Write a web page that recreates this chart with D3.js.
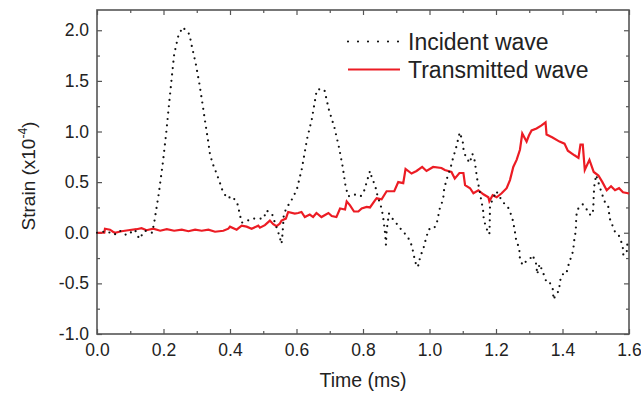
<!DOCTYPE html>
<html>
<head>
<meta charset="utf-8">
<script src="https://cdn.jsdelivr.net/npm/d3@7"></script>
<style>
  body { margin: 0; background: #fff; }
  svg { display: block; }
  text { font-family: "Liberation Sans", Arial, Helvetica, sans-serif; fill: #222; }
</style>
</head>
<body>
<div class="chart"></div>
<script>
// Incident wave (time in ms, strain x1e-4)
var incTime = [0.000,0.029,0.052,0.069,0.089,0.114,0.127,0.144,0.166,0.172,0.186,0.198,0.208,0.217,0.226,0.232,0.238,0.245,0.258,0.278,
	0.284,0.297,0.308,0.317,0.326,0.335,0.339,0.347,0.359,0.369,0.377,0.391,0.407,0.422,0.429,0.435,0.447,0.466,0.501,0.510,
	0.527,0.537,0.547,0.555,0.558,0.562,0.575,0.590,0.602,0.616,0.632,0.646,0.661,0.672,0.684,0.697,0.714,0.728,0.739,0.748,
	0.756,0.771,0.793,0.803,0.812,0.821,0.826,0.837,0.844,0.854,0.860,0.867,0.869,0.871,0.878,0.895,0.907,0.919,0.930,0.943,
	0.951,0.957,0.965,0.972,0.983,0.990,0.998,1.011,1.021,1.031,1.041,1.044,1.051,1.064,1.071,1.080,1.091,1.100,1.103,1.111,
	1.121,1.129,1.136,1.140,1.144,1.150,1.155,1.161,1.163,1.170,1.180,1.181,1.182,1.201,1.221,1.232,1.240,1.250,1.256,1.260,
	1.270,1.272,1.280,1.291,1.302,1.310,1.321,1.324,1.331,1.340,1.351,1.360,1.371,1.373,1.380,1.390,1.392,1.400,1.411,1.418,
	1.422,1.432,1.435,1.440,1.441,1.443,1.451,1.461,1.471,1.481,1.491,1.493,1.494,1.496,1.501,1.518,1.529,1.539,1.541,1.548,
	1.559,1.571,1.581,1.583,1.593,1.595];
var incStrain = [0.00,0.015,-0.02,0.02,-0.025,0.03,-0.06,0.02,0.00,0.10,0.39,0.69,0.98,1.28,1.57,1.76,1.85,1.95,2.03,1.96,
	1.86,1.67,1.47,1.28,1.08,0.89,0.79,0.69,0.59,0.50,0.42,0.34,0.36,0.29,0.19,0.10,0.11,0.14,0.14,0.22,
	0.18,0.08,-0.015,-0.11,-0.01,0.19,0.27,0.35,0.44,0.63,0.93,1.12,1.41,1.42,1.41,1.22,1.04,0.84,0.65,0.45,
	0.36,0.38,0.36,0.41,0.51,0.61,0.55,0.46,0.36,0.26,0.17,-0.02,-0.12,0.02,0.19,0.11,0.07,0.01,-0.02,-0.09,
	-0.19,-0.29,-0.34,-0.24,-0.14,-0.05,0.035,0.035,0.08,0.24,0.33,0.43,0.52,0.65,0.74,0.84,0.99,0.90,0.80,0.74,
	0.69,0.78,0.71,0.61,0.52,0.43,0.33,0.23,0.14,0.05,-0.015,0.07,0.27,0.41,0.30,0.27,0.23,0.13,0.03,-0.06,
	-0.16,-0.26,-0.32,-0.28,-0.26,-0.22,-0.31,-0.41,-0.31,-0.38,-0.48,-0.48,-0.56,-0.66,-0.61,-0.57,-0.48,-0.41,-0.41,-0.32,
	-0.28,-0.18,-0.08,0.02,0.12,0.21,0.26,0.28,0.24,0.18,0.18,0.28,0.38,0.47,0.57,0.39,0.29,0.25,0.15,0.09,
	0.00,-0.035,-0.13,-0.22,-0.20,-0.11];

// Transmitted wave
var trTime = [0.000,0.022,0.024,0.039,0.048,0.054,0.074,0.094,0.119,0.134,0.149,0.169,0.190,0.210,0.232,0.255,0.275,0.295,0.315,0.335,
	0.355,0.380,0.395,0.400,0.420,0.435,0.450,0.465,0.485,0.490,0.505,0.520,0.530,0.540,0.550,0.555,0.568,0.575,0.595,0.605,
	0.615,0.625,0.640,0.650,0.660,0.675,0.696,0.706,0.720,0.731,0.746,0.751,0.761,0.773,0.786,0.796,0.811,0.821,0.836,0.841,
	0.856,0.871,0.894,0.906,0.921,0.928,0.946,0.961,0.978,0.991,1.011,1.036,1.046,1.066,1.076,1.090,1.102,1.107,1.122,1.132,
	1.147,1.162,1.177,1.180,1.190,1.202,1.217,1.232,1.242,1.252,1.262,1.272,1.279,1.292,1.299,1.307,1.322,1.337,1.349,1.352,
	1.370,1.391,1.406,1.416,1.436,1.448,1.454,1.461,1.467,1.481,1.494,1.508,1.520,1.533,1.546,1.558,1.570,1.582,1.597,1.600];
var trStrain = [0.00,0.00,0.04,0.03,0.01,0.00,0.015,0.025,0.035,0.045,0.025,0.04,0.02,0.035,0.02,0.03,0.015,0.03,0.02,0.03,
	0.01,0.02,0.04,0.06,0.03,0.07,0.06,0.04,0.07,0.05,0.075,0.12,0.085,0.065,0.09,0.12,0.14,0.205,0.19,0.195,
	0.205,0.155,0.18,0.155,0.195,0.155,0.195,0.165,0.155,0.24,0.23,0.31,0.27,0.21,0.21,0.24,0.255,0.25,0.32,0.34,
	0.33,0.41,0.41,0.50,0.49,0.63,0.585,0.61,0.65,0.61,0.65,0.64,0.62,0.60,0.535,0.59,0.59,0.47,0.44,0.39,
	0.42,0.38,0.35,0.31,0.37,0.35,0.39,0.44,0.52,0.65,0.72,0.82,0.98,0.90,0.96,1.01,1.03,1.06,1.09,0.97,
	0.94,0.90,0.88,0.81,0.765,0.74,0.87,0.87,0.62,0.72,0.60,0.565,0.50,0.42,0.46,0.42,0.44,0.40,0.39,0.385];

var xTicks = [0.0, 0.2, 0.4, 0.6, 0.8, 1.0, 1.2, 1.4, 1.6];
var yTicks = [-1.0, -0.5, 0.0, 0.5, 1.0, 1.5, 2.0];
var seriesNames = ["Incident wave", "Transmitted wave"];

var width = 641, height = 395;
var margin = { left: 97, right: 12, top: 10, bottom: 61 };
var plotW = width - margin.left - margin.right,
	plotH = height - margin.top - margin.bottom;

var svg = d3.select(".chart")
	.append("svg")
		.attr("width", width)
		.attr("height", height);

var g = svg.append("g")
	.attr("transform", "translate(" + margin.left + "," + margin.top + ")");

var x = d3.scaleLinear().domain([0, 1.6]).range([0, plotW]);
var y = d3.scaleLinear().domain([-1.0, 2.2]).range([plotH, 0]);

var axisColor = "#555";
// plain hyphen for negatives, like the original plot
var fmt = function(d) { return d.toFixed(1); };

// minor ticks every half step, inward on all four sides
var xMinor = d3.range(0.1, 1.6, 0.2);
var yMinor = d3.range(-0.75, 2.2, 0.5);

function styleAxis(sel) {
	sel.select(".domain").remove();
	sel.selectAll(".tick line").attr("stroke", axisColor).attr("stroke-width", 1.2);
	sel.selectAll(".tick text").attr("fill", "#222").style("font-size", "17.5px")
		.style("font-family", "'Liberation Sans', Arial, sans-serif");
}

// bottom
g.append("g")
	.attr("transform", "translate(0," + plotH + ")")
	.call(d3.axisBottom(x).tickValues(xTicks).tickSizeInner(-5).tickPadding(10).tickFormat(fmt))
	.call(styleAxis);
g.append("g")
	.attr("transform", "translate(0," + plotH + ")")
	.call(d3.axisBottom(x).tickValues(xMinor).tickSizeInner(-3).tickFormat(""))
	.call(styleAxis);
// top
g.append("g")
	.call(d3.axisTop(x).tickValues(xTicks).tickSizeInner(-5).tickFormat(""))
	.call(styleAxis);
g.append("g")
	.call(d3.axisTop(x).tickValues(xMinor).tickSizeInner(-3).tickFormat(""))
	.call(styleAxis);
// left
g.append("g")
	.call(d3.axisLeft(y).tickValues(yTicks).tickSizeInner(-5).tickPadding(8).tickFormat(fmt))
	.call(styleAxis);
g.append("g")
	.call(d3.axisLeft(y).tickValues(yMinor).tickSizeInner(-3).tickFormat(""))
	.call(styleAxis);
// right
g.append("g")
	.attr("transform", "translate(" + plotW + ",0)")
	.call(d3.axisRight(y).tickValues(yTicks).tickSizeInner(-5).tickFormat(""))
	.call(styleAxis);
g.append("g")
	.attr("transform", "translate(" + plotW + ",0)")
	.call(d3.axisRight(y).tickValues(yMinor).tickSizeInner(-3).tickFormat(""))
	.call(styleAxis);

// frame
g.append("rect")
	.attr("x", 0).attr("y", 0)
	.attr("width", plotW).attr("height", plotH)
	.attr("fill", "none")
	.attr("stroke", axisColor)
	.attr("stroke-width", 1.6);

var line = d3.line()
	.x(function(d) { return x(d[0]); })
	.y(function(d) { return y(d[1]); });

var incData = incTime.map(function(t, i) { return [t, incStrain[i]]; });
var trData = trTime.map(function(t, i) { return [t, trStrain[i]]; });

g.append("path")
	.datum(trData)
	.attr("d", line)
	.attr("fill", "none")
	.attr("stroke", "#ec1c24")
	.attr("stroke-width", 2.2)
	.attr("stroke-linejoin", "miter");

g.append("path")
	.datum(incData)
	.attr("d", line)
	.attr("fill", "none")
	.attr("stroke", "#111")
	.attr("stroke-width", 2.2)
	.attr("stroke-linecap", "round")
	.attr("stroke-dasharray", "0,6.4");

// legend
var legend = svg.append("g").attr("transform", "translate(348,0)");
legend.append("line")
	.attr("x1", 0).attr("x2", 52).attr("y1", 41.5).attr("y2", 41.5)
	.attr("stroke", "#111").attr("stroke-width", 2.2)
	.attr("stroke-linecap", "round").attr("stroke-dasharray", "0,10");
legend.append("text")
	.attr("x", 60).attr("y", 49.5)
	.style("font-size", "23px")
	.text(seriesNames[0]);
legend.append("line")
	.attr("x1", 0).attr("x2", 52).attr("y1", 69.5).attr("y2", 69.5)
	.attr("stroke", "#ec1c24").attr("stroke-width", 2);
legend.append("text")
	.attr("x", 60).attr("y", 77.5)
	.style("font-size", "23px")
	.text(seriesNames[1]);

// X Label
svg.append("text")
	.attr("x", margin.left + plotW / 2)
	.attr("y", 387)
	.attr("text-anchor", "middle")
	.style("font-size", "19.5px")
	.text("Time (ms)");

// Y Label
var yLabel = svg.append("text")
	.attr("transform", "translate(35,176) rotate(-90)")
	.attr("text-anchor", "middle")
	.style("font-size", "19px");
yLabel.append("tspan").text("Strain (x10");
yLabel.append("tspan").attr("dy", -8).style("font-size", "12px").text("-4");
yLabel.append("tspan").attr("dy", 8).text(")");
</script>
</body>
</html>
